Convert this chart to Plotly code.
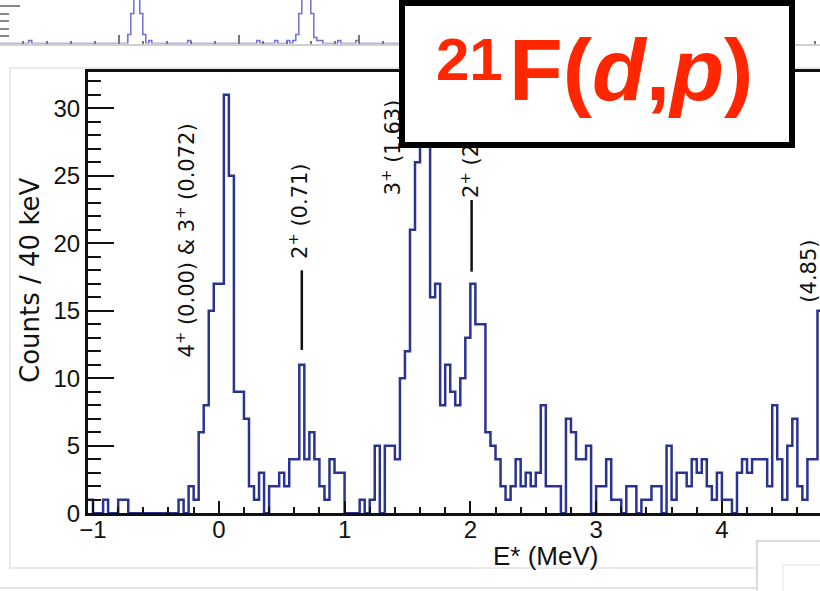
import numpy as np
import plotly.graph_objects as go

# Excitation-energy spectrum, 40 keV bins starting at -1.04 MeV
bin_start = -1.04
bin_width = 0.04
counts = [
    1, 0, 0, 1, 0, 0, 1, 1, 0, 0,
    0, 0, 0, 0, 0, 0, 0, 0, 1, 0,
    2, 1, 6, 8, 15, 17, 17, 31, 25, 9,
    9, 7, 2, 1, 3, 0, 2, 2, 3, 2,
    4, 4, 11, 4, 6, 4, 2, 1, 4, 3,
    3, 0, 0, 0, 1, 0, 1, 5, 0, 5,
    5, 4, 10, 12, 21, 26, 30, 29, 16, 17,
    8, 11, 9, 8, 10, 13, 17, 14, 14, 6,
    5, 4, 2, 1, 2, 4, 2, 3, 2, 3,
    8, 2, 2, 2, 0, 7, 6, 4, 4, 5,
    0, 2, 2, 4, 1, 1, 0, 2, 2, 0,
    1, 1, 2, 2, 0, 5, 1, 3, 3, 2,
    4, 3, 4, 2, 1, 3, 1, 1, 0, 3,
    4, 3, 4, 4, 4, 2, 8, 4, 1, 5,
    7, 2, 1, 4, 4, 15,
]

# Upper spectrum strip (finer binning, arbitrary units)
upper_start = -1.0
upper_width = 0.025
upper_counts = [0] * 136
for j, c in {10: 1, 43: 3, 44: 10, 45: 30, 46: 30, 47: 10, 48: 3, 50: 1,
             63: 1, 86: 1, 92: 1, 96: 1, 98: 1, 99: 3, 100: 10, 101: 30,
             102: 30, 103: 30, 104: 10, 105: 2, 106: 1, 107: 1, 113: 1,
             119: 1}.items():
    upper_counts[j] = c

# Level labels: (text, label x, label y)
level_labels = [
    ("4<sup>+</sup> (0.00) &amp; 3<sup>+</sup> (0.072)", -0.27, 20.2),
    ("2<sup>+</sup> (0.71)", 0.63, 22.4),
    ("3<sup>+</sup> (1.63)", 1.375, 27.1),
    ("2<sup>+</sup> (2.01)", 1.995, 26.9),
    ("(4.85)", 4.69, 17.95),
]
# Level marker lines: (energy, y from, y to)
level_lines = [(0.66, 12.1, 18.0), (2.01, 17.9, 23.2)]

# Reaction tag
tag_mass = "21"
tag_reaction = "F(<i>d</i>,<i>p</i>)"

W, H = 820, 591
HIST = "#2a3490"
TAG_RED = "#ff2600"

edges = bin_start + bin_width * np.arange(len(counts) + 1)
yvals = list(counts) + [counts[-1]]
uedges = upper_start + upper_width * np.arange(len(upper_counts) + 1)
uy = list(upper_counts) + [upper_counts[-1]]

fig = go.Figure()
fig.add_trace(go.Scatter(x=edges, y=yvals, mode="lines",
                         line=dict(shape="hv", color=HIST, width=2.5),
                         hoverinfo="skip", showlegend=False))
fig.add_trace(go.Scatter(x=uedges, y=uy, mode="lines", xaxis="x2", yaxis="y2",
                         line=dict(shape="hv", color="#6f6fd8", width=1.5),
                         hoverinfo="skip", showlegend=False))

SANS = "Liberation Sans, Arial, sans-serif"
TICKFONT = dict(family=SANS, size=24, color="#111")

fig.update_layout(
    width=W, height=H, margin=dict(l=0, r=0, t=0, b=0, autoexpand=False),
    paper_bgcolor="white", plot_bgcolor="rgba(0,0,0,0)",
    showlegend=False,
    xaxis=dict(domain=[88 / W, 1], range=[-1.04, 4.78], anchor="y",
               automargin=False,
               showline=True, linecolor="#111", linewidth=3, mirror=True,
               ticks="inside", ticklen=12, tickwidth=2, tickcolor="#111",
               tick0=0, dtick=1, showgrid=False, zeroline=False,
               ticklabelstandoff=-7,
               minor=dict(dtick=0.2, ticklen=6, tickwidth=2, ticks="inside",
                          tickcolor="#111", showgrid=False),
               tickfont=TICKFONT),
    yaxis=dict(domain=[1 - 513.3 / H, 1 - 72 / H], range=[0, 32.69], anchor="x",
               automargin=False,
               showline=True, linecolor="#111", linewidth=3, mirror=False,
               ticks="inside", ticklen=26, tickwidth=2, tickcolor="#111",
               tick0=0, dtick=5, showgrid=False, zeroline=False,
               minor=dict(dtick=1, ticklen=13, tickwidth=2, ticks="inside",
                          tickcolor="#111", showgrid=False),
               tickfont=TICKFONT),
    xaxis2=dict(domain=[0, 1], range=[-0.99, -0.99 + W / 120.0], anchor="y2",
                automargin=False,
                showline=True, linecolor="#d0d0d0", linewidth=1.5,
                ticks="inside", ticklen=9, tickwidth=1.5, tickcolor="#777",
                tick0=0, dtick=1, showticklabels=False, showgrid=False,
                zeroline=False,
                minor=dict(dtick=0.2, ticklen=3, tickwidth=1.5, ticks="inside",
                           tickcolor="#777", showgrid=False)),
    yaxis2=dict(domain=[1 - 43.5 / H, 1], range=[0, 43.5 / 3], anchor="x2",
                automargin=False,
                showline=False, ticks="inside", ticklen=20, tickwidth=1.5,
                tickcolor="#888", tick0=0, dtick=12.5, showticklabels=False,
                showgrid=False, zeroline=False,
                minor=dict(dtick=2.5, ticklen=9, tickwidth=1.5, ticks="inside",
                           tickcolor="#888", showgrid=False)),
)

# Pad outline and neighbouring panel edges
fig.add_shape(type="rect", xref="paper", yref="paper", layer="below",
              x0=10 / W, x1=1.05, y0=1 - 568 / H, y1=1 - 68 / H,
              line=dict(color="#e4e4e4", width=1.5), fillcolor="white")
fig.add_shape(type="line", xref="paper", yref="paper", layer="below",
              x0=0, x1=1, y0=1 - 588 / H, y1=1 - 588 / H,
              line=dict(color="#d8d8d8", width=1.5))
fig.add_shape(type="rect", xref="paper", yref="paper", layer="above",
              x0=757 / W, x1=1.05, y0=-0.05, y1=1 - 541 / H,
              line=dict(color="#d0d0d0", width=1.5), fillcolor="white")
fig.add_shape(type="rect", xref="paper", yref="paper", layer="above",
              x0=783 / W, x1=1.05, y0=-0.05, y1=1 - 565 / H,
              line=dict(color="#e2e2e2", width=1), fillcolor="white")

for e, ya, yb in level_lines:
    fig.add_shape(type="line", xref="x", yref="y", x0=e, x1=e, y0=ya, y1=yb,
                  line=dict(color="#111", width=2.5))

LABELFONT = dict(family="DejaVu Sans, sans-serif", size=21, color="#111")
for txt, lx, ly in level_labels:
    fig.add_annotation(text=txt, x=lx, y=ly, xref="x", yref="y",
                       textangle=-90, showarrow=False, font=LABELFONT,
                       xanchor="center", yanchor="middle")

# Axis titles
fig.add_annotation(text="Counts / 40 keV", xref="paper", yref="paper",
                   x=30 / W, y=1 - 280 / H, textangle=-90, showarrow=False,
                   font=dict(family="DejaVu Sans, sans-serif", size=26, color="#111"),
                   xanchor="center", yanchor="middle")
fig.add_annotation(text="E* (MeV)", xref="paper", yref="paper",
                   x=545 / W, y=1 - 556 / H, showarrow=False,
                   font=dict(family=SANS, size=26, color="#111"),
                   xanchor="center", yanchor="middle")

# Reaction tag box, drawn after the level labels so it hides what lies beneath
fig.add_annotation(text=" ", xref="paper", yref="paper", x=399 / W, y=1,
                   xanchor="left", yanchor="top", showarrow=False,
                   width=384, height=136,
                   bgcolor="white", bordercolor="#000", borderwidth=6, borderpad=0,
                   font=dict(family=SANS, size=10))
fig.add_annotation(text=f"<b>{tag_mass}</b>", xref="paper", yref="paper",
                   x=434 / W, y=1 - 59 / H, xanchor="left", yanchor="middle",
                   showarrow=False, font=dict(family=SANS, size=60, color=TAG_RED))
fig.add_annotation(text=f"<b>{tag_reaction}</b>", xref="paper", yref="paper",
                   x=507 / W, y=1 - 70 / H, xanchor="left", yanchor="middle",
                   showarrow=False, font=dict(family=SANS, size=88, color=TAG_RED))

fig.write_html("out.html")
